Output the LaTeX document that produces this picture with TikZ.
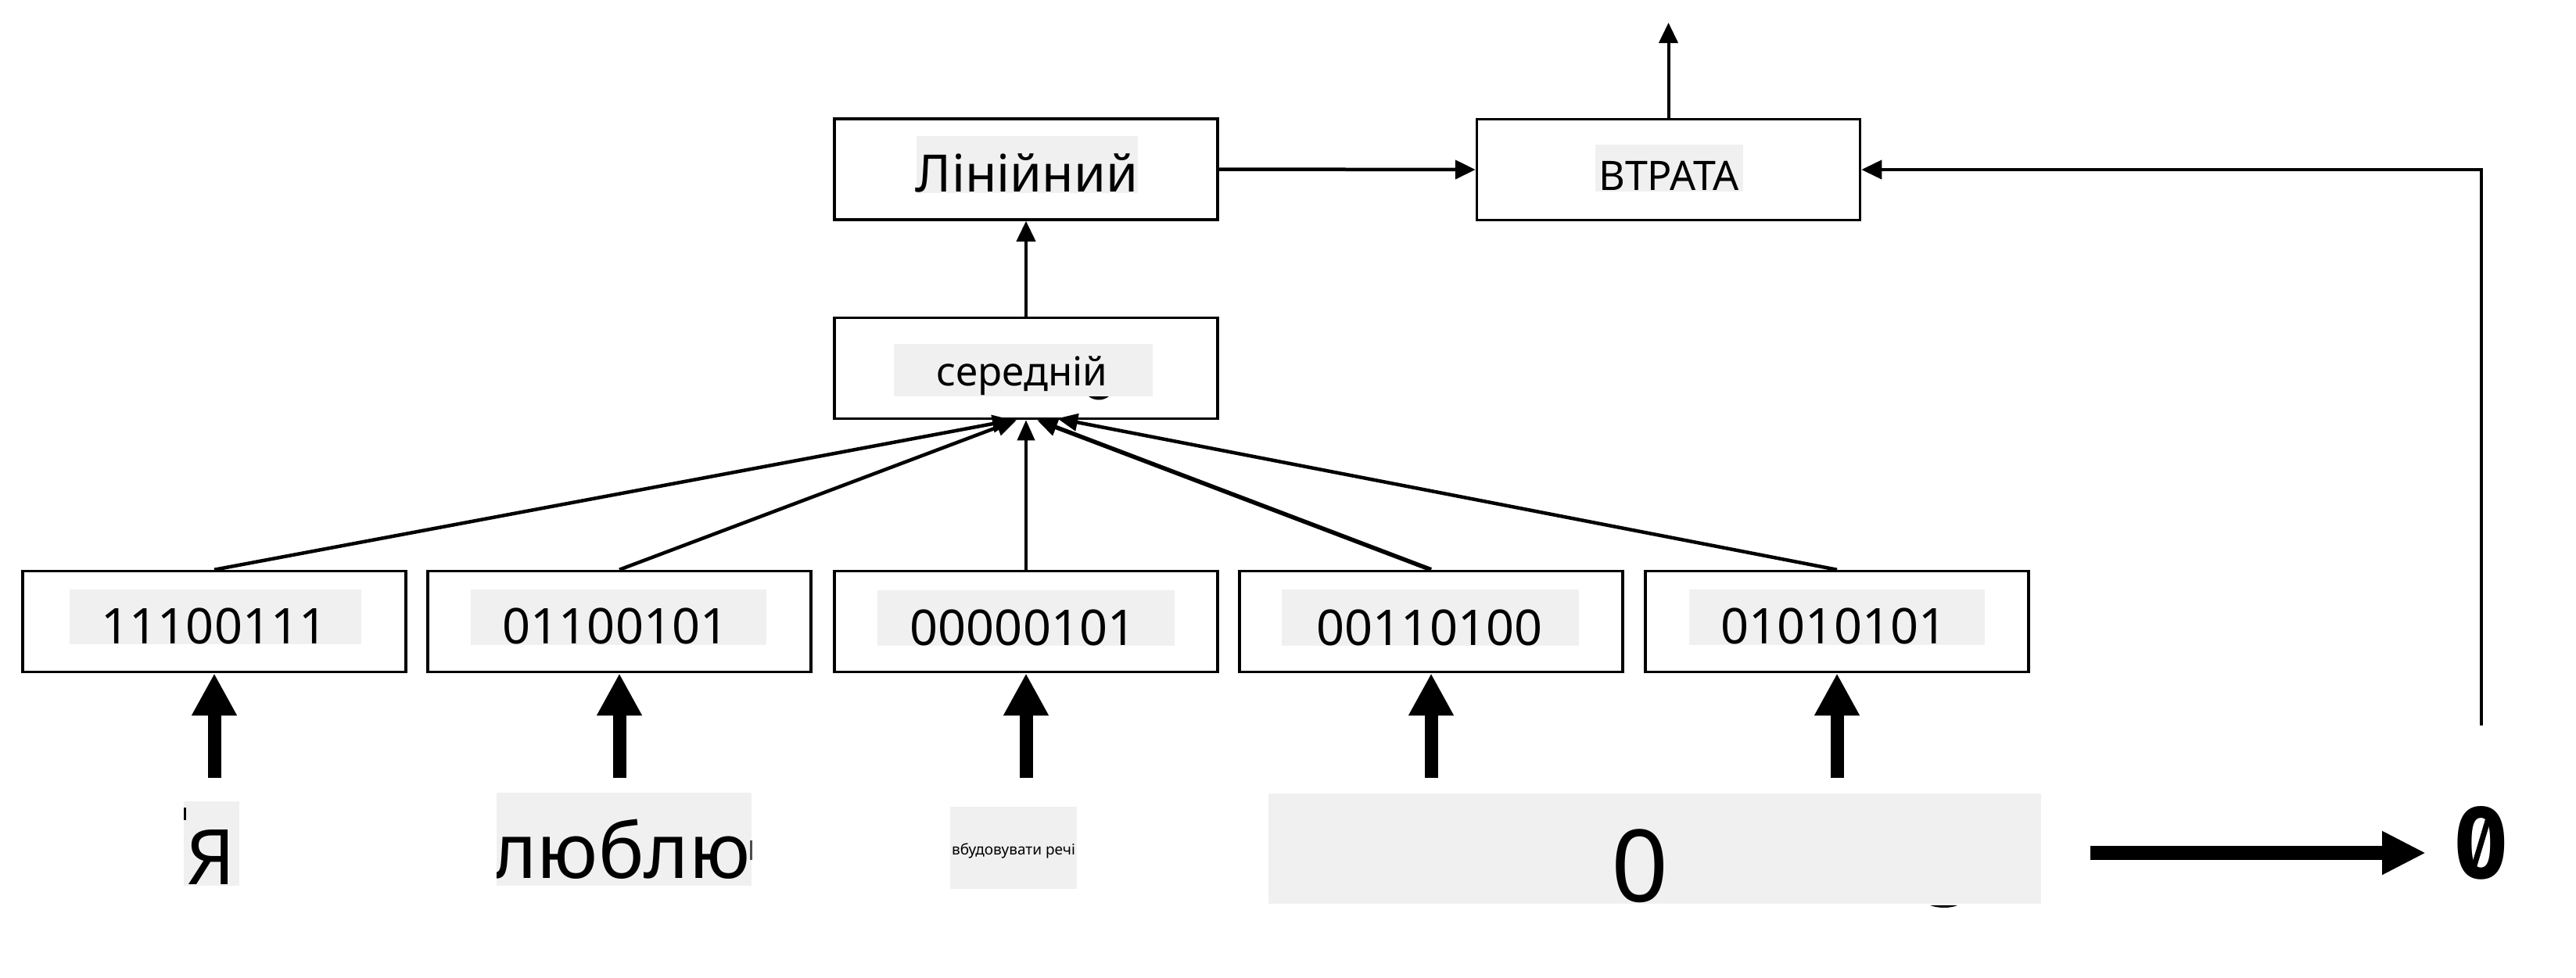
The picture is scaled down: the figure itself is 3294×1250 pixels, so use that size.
\documentclass[tikz,border=0pt]{standalone}
\usepackage{fontspec}
\setmainfont{Noto Sans}
\newfontfamily\monofnt{DejaVu Sans Mono}
\usetikzlibrary{arrows.meta}
\definecolor{lblgray}{HTML}{F0F0F0}
\begin{document}
\begin{tikzpicture}[x=1pt,y=-1pt,
  box/.style={draw, line width=3.5pt, minimum width=490pt, minimum height=129pt, inner sep=0pt},
  lbl/.style={fill=lblgray},
  txt/.style={anchor=base, inner sep=0pt},
  thinarrow/.style={line width=4pt, -{Triangle[length=26pt,width=24pt]}},
  fanline/.style={line width=4.5pt, -{Triangle[length=26pt,width=22pt]}},
  fatarrow/.style={line width=17pt, -{Triangle[length=54pt,width=54pt]}},
  fs/.style={font=\fontsize{#1}{#1}\selectfont}
]
\useasboundingbox (0,0) rectangle (3294,1250);
\fill[white] (0,0) rectangle (3294,1250);

% top boxes
\node[box] (lin) at (1312,216.5) {};
\node[box] (loss) at (2133.5,217) {};
\node[box] (avg) at (1312,471) {};
\fill[lbl] (1172,174) rectangle (1455,247);
\fill[lbl] (2040,185) rectangle (2229,245);
\fill[lbl] (1143,440) rectangle (1474,507);
\node[txt, fs=66] (lintxt) at (1313,245) {Лінійний};
\node[txt, fs=52] (losstxt) at (2134,243) {ВТРАТА};
\node[txt, fs=51] (avgtxt) at (1307,493) {середній};
\fill (1392,507) .. controls (1400,513) and (1410,513) .. (1418,507) -- cycle;

% embedding boxes
\node[box] (b1) at (274,795) {};
\node[box] (b2) at (792,795) {};
\node[box] (b3) at (1312,795) {};
\node[box] (b4) at (1830,795) {};
\node[box] (b5) at (2349,795) {};
\fill[lbl] (89,754) rectangle (462,824);
\fill[lbl] (602,754) rectangle (980,825);
\fill[lbl] (1122,755) rectangle (1502,826);
\fill[lbl] (1639,754) rectangle (2019,826);
\fill[lbl] (2160,754) rectangle (2538,825);
\node[txt, fs=63] (t1) at (274,823) {11100111};
\node[txt, fs=63] (t2) at (787,823) {01100101};
\node[txt, fs=63] (t3) at (1308,825) {00000101};
\node[txt, fs=63] (t4) at (1828,825) {00110100};
\node[txt, fs=63] (t5) at (2345,823) {01010101};

% fan-in to average
\draw[fanline] (b1.north) -- ([xshift=-17pt]avg.south);
\draw[fanline] (b2.north) -- ([xshift=-12pt]avg.south);
\draw[line width=4pt, -{Triangle[length=26pt,width=22pt]}] (b3.north) -- (avg.south);
\draw[fanline, line width=5.5pt] (b4.north) -- ([xshift=14pt]avg.south);
\draw[fanline] (b5.north) -- ([xshift=40pt,yshift=2pt]avg.south);

% upper connectors
\draw[thinarrow] (avg.north) -- (lin.south);
\draw[line width=4.5pt, -{Triangle[length=26pt,width=24pt]}] (lin.east) -- (loss.west);
\coordinate (out) at (2133.5,29);
\draw[thinarrow] (loss.north) -- (out);
\coordinate (ret) at (3173,928);
\draw[thinarrow] (ret) |- (loss.east);

% bottom words
\coordinate (w1) at (274,995);
\coordinate (w2) at (792,995);
\coordinate (w3) at (1312,995);
\coordinate (w4) at (1830,995);
\coordinate (w5) at (2349,995);
\draw[fatarrow] (w1) -- (b1.south);
\draw[fatarrow] (w2) -- (b2.south);
\draw[fatarrow] (w3) -- (b3.south);
\draw[fatarrow] (w4) -- (b4.south);
\draw[fatarrow] (w5) -- (b5.south);

\fill[lbl] (235,1025) rectangle (306,1133);
\fill (235,1033) rectangle (238,1049);
\begin{scope}
  \clip (235,1025) rectangle (306,1133);
  \node[txt, fs=98] (ya) at (270,1131) {Я};
\end{scope}

\fill[lbl] (635,1014) rectangle (961,1133);
\begin{scope}
  \clip (635,1014) rectangle (962,1133);
  \node[txt, fs=98, anchor=base west] (lyublyu) at (629,1123) {люблю};
\end{scope}
\fill[black!70] (959,1075) rectangle (961.5,1100);

\fill[lbl] (1215,1032) rectangle (1377,1137);
\node[txt, fs=19] (emb) at (1296,1093) {вбудовувати речі};

\fill[lbl] (1622,1015) rectangle (2610,1156);
\begin{scope}
  \clip (1622,1015) rectangle (2610,1156);
  \node[txt, fs=128] (zero) at (2097,1153) {0};
\end{scope}
\fill (2468,1158) .. controls (2478,1162) and (2494,1162) .. (2503,1158) -- cycle;

\coordinate (ra) at (2673,1091);
\coordinate (rb) at (3102,1091);
\draw[line width=18pt, -{Triangle[length=56pt,width=52pt]}] (ra) -- (rb);
% slashed zero: DejaVu Sans Mono Bold zero with its dot turned into a slash
\node[txt, font=\monofnt\bfseries\fontsize{124}{124}\selectfont] (res) at (3172.5,1123.5) {0};
\fill[white] (3172.5,1078) circle[radius=9.5];
\draw[line width=7pt] (3162.5,1112) -- (3182.5,1045);
\end{tikzpicture}
\end{document}
